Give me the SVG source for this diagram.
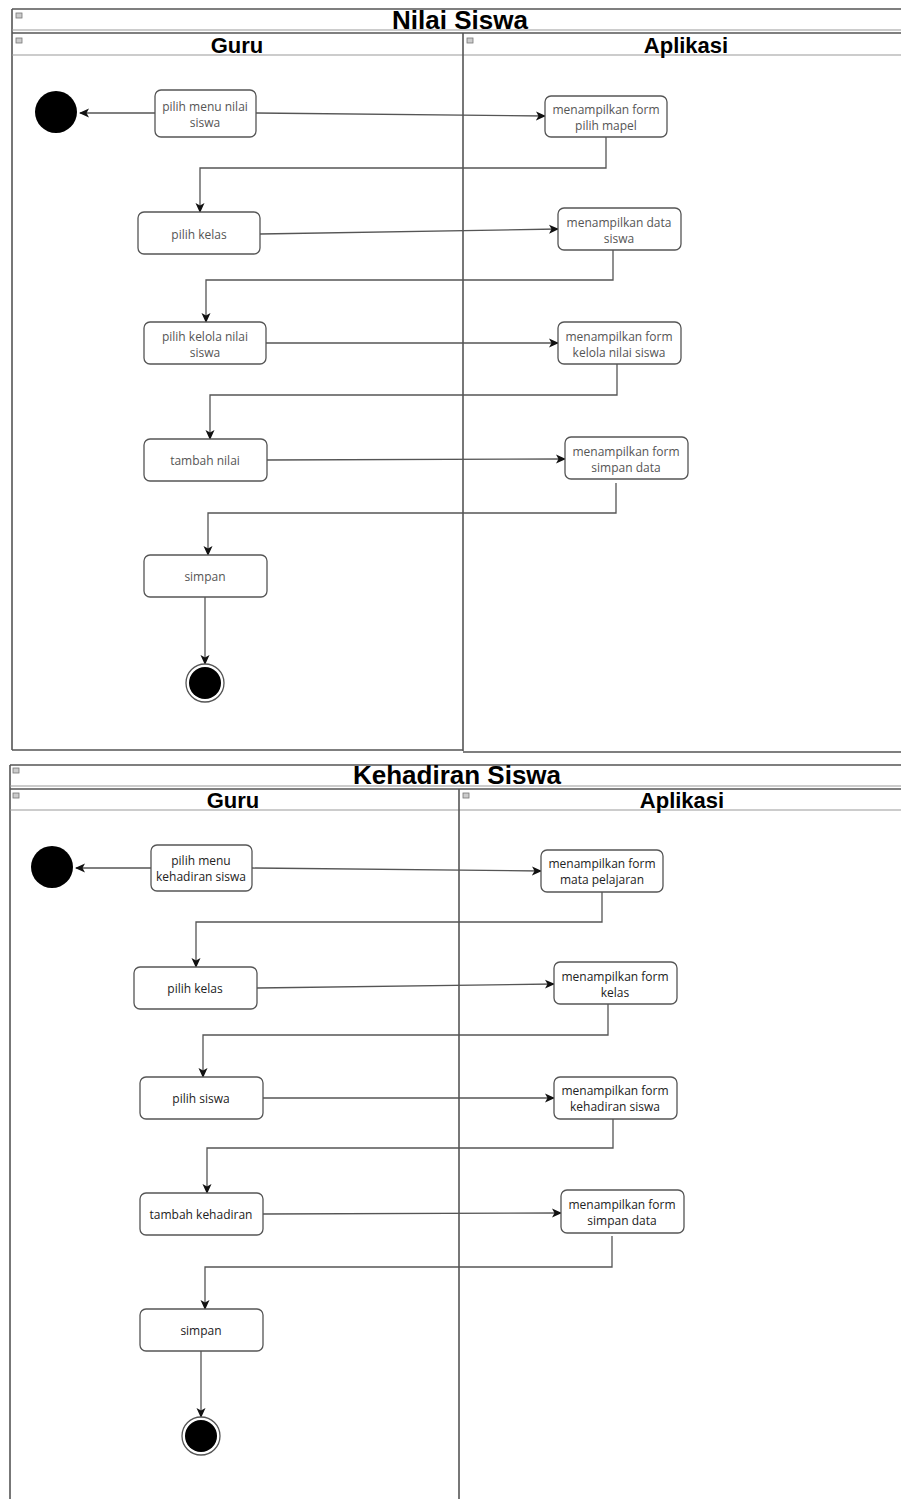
<svg xmlns="http://www.w3.org/2000/svg" width="901" height="1499" viewBox="0 0 901 1499">
<defs>
<marker id="arr" markerWidth="10" markerHeight="10" refX="9" refY="5" orient="auto" markerUnits="userSpaceOnUse">
<path d="M0,0.5 L10,5 L0,9.5 L2.5,5 Z" fill="#111"/>
</marker>
<style>
.frame{fill:none;stroke:#555;stroke-width:1.6}
.hdr{fill:none;stroke:#999;stroke-width:1.2}
.title{font-family:"Liberation Sans",Arial,sans-serif;font-weight:bold;font-size:26px;fill:#000;text-anchor:middle}
.lane{font-family:"Liberation Sans",Arial,sans-serif;font-weight:bold;font-size:22px;fill:#000;text-anchor:middle}
.box{fill:#fff;stroke:#555;stroke-width:1.3}
.t1{font-family:"Open Sans","Noto Sans",sans-serif;font-size:12px;fill:#555;text-anchor:middle;dominant-baseline:central}
.t2{font-family:"Open Sans","Noto Sans",sans-serif;font-size:12px;fill:#222;text-anchor:middle;dominant-baseline:central}
.conn{fill:none;stroke:#555;stroke-width:1.3}
.icon{fill:#ccc;stroke:#777;stroke-width:0.8}
</style>
</defs>
<rect width="901" height="1499" fill="#fff"/>

<!-- ===== Diagram 1: Nilai Siswa ===== -->
<g id="frame-nilai">
<line class="frame" x1="12" y1="9" x2="901" y2="9"/>
<line class="frame" x1="12" y1="9" x2="12" y2="750"/>
<line class="hdr" x1="12" y1="30" x2="901" y2="30"/>
<line class="frame" x1="12" y1="33" x2="901" y2="33"/>
<line class="hdr" x1="12" y1="55" x2="901" y2="55"/>
<line class="frame" x1="463" y1="33" x2="463" y2="751"/>
<line class="frame" x1="12" y1="750" x2="463" y2="750"/>
<line class="frame" x1="463" y1="752" x2="901" y2="752"/>
<rect class="icon" x="16" y="13" width="6" height="5"/>
<rect class="icon" x="16" y="38" width="6" height="5"/>
<rect class="icon" x="467" y="38" width="6" height="5"/>
<text class="title" x="460" y="29">Nilai Siswa</text>
<text class="lane" x="237" y="53">Guru</text>
<text class="lane" x="686" y="53">Aplikasi</text>
</g>

<g id="connectors-nilai">
<line class="conn" x1="155" y1="113" x2="80" y2="113" marker-end="url(#arr)"/>
<line class="conn" x1="256" y1="113" x2="545" y2="116" marker-end="url(#arr)"/>
<polyline class="conn" points="606,137 606,168 200,168 200,212" marker-end="url(#arr)"/>
<line class="conn" x1="260" y1="234" x2="558" y2="229" marker-end="url(#arr)"/>
<polyline class="conn" points="613,250 613,280 206,280 206,322" marker-end="url(#arr)"/>
<line class="conn" x1="266" y1="343" x2="558" y2="343" marker-end="url(#arr)"/>
<polyline class="conn" points="617,364 617,395 210,395 210,439" marker-end="url(#arr)"/>
<line class="conn" x1="267" y1="460" x2="565" y2="459" marker-end="url(#arr)"/>
<polyline class="conn" points="616,483 616,513 208,513 208,555" marker-end="url(#arr)"/>
<line class="conn" x1="205" y1="597" x2="205" y2="664" marker-end="url(#arr)"/>
</g>

<g id="n1-start"><circle cx="56" cy="112" r="21" fill="#000"/></g>
<g id="n1-menu"><rect class="box" x="155" y="90" width="101" height="47" rx="6"/><text class="t1" x="205" y="106">pilih menu nilai</text><text class="t1" x="205" y="122">siswa</text></g>
<g id="n1-formmapel"><rect class="box" x="545" y="96" width="122" height="41" rx="6"/><text class="t1" x="606" y="109">menampilkan form</text><text class="t1" x="606" y="125">pilih mapel</text></g>
<g id="n1-kelas"><rect class="box" x="138" y="212" width="122" height="42" rx="6"/><text class="t1" x="199" y="234">pilih kelas</text></g>
<g id="n1-datasiswa"><rect class="box" x="558" y="208" width="123" height="42" rx="6"/><text class="t1" x="619" y="222">menampilkan data</text><text class="t1" x="619" y="238">siswa</text></g>
<g id="n1-kelola"><rect class="box" x="144" y="322" width="122" height="42" rx="6"/><text class="t1" x="205" y="336">pilih kelola nilai</text><text class="t1" x="205" y="352">siswa</text></g>
<g id="n1-formkelola"><rect class="box" x="558" y="322" width="123" height="42" rx="6"/><text class="t1" x="619" y="336">menampilkan form</text><text class="t1" x="619" y="352">kelola nilai siswa</text></g>
<g id="n1-tambah"><rect class="box" x="144" y="439" width="123" height="42" rx="6"/><text class="t1" x="205" y="460">tambah nilai</text></g>
<g id="n1-formsimpan"><rect class="box" x="565" y="437" width="123" height="42" rx="6"/><text class="t1" x="626" y="451">menampilkan form</text><text class="t1" x="626" y="467">simpan data</text></g>
<g id="n1-simpan"><rect class="box" x="144" y="555" width="123" height="42" rx="6"/><text class="t1" x="205" y="576">simpan</text></g>
<g id="n1-end"><circle cx="205" cy="683" r="19" fill="#fff" stroke="#555" stroke-width="1.3"/><circle cx="205" cy="683" r="16" fill="#000"/></g>

<!-- ===== Diagram 2: Kehadiran Siswa ===== -->
<g id="frame-kehadiran">
<line class="frame" x1="10" y1="765" x2="901" y2="765"/>
<line class="frame" x1="10" y1="765" x2="10" y2="1499"/>
<line class="hdr" x1="10" y1="786" x2="901" y2="786"/>
<line class="frame" x1="10" y1="789" x2="901" y2="789"/>
<line class="hdr" x1="10" y1="810" x2="901" y2="810"/>
<line class="frame" x1="459" y1="789" x2="459" y2="1499"/>
<rect class="icon" x="13" y="768" width="6" height="5"/>
<rect class="icon" x="13" y="793" width="6" height="5"/>
<rect class="icon" x="463" y="793" width="6" height="5"/>
<text class="title" x="457" y="784">Kehadiran Siswa</text>
<text class="lane" x="233" y="808">Guru</text>
<text class="lane" x="682" y="808">Aplikasi</text>
</g>

<g id="connectors-kehadiran">
<line class="conn" x1="151" y1="868" x2="76" y2="868" marker-end="url(#arr)"/>
<line class="conn" x1="252" y1="868" x2="541" y2="871" marker-end="url(#arr)"/>
<polyline class="conn" points="602,892 602,922 196,922 196,967" marker-end="url(#arr)"/>
<line class="conn" x1="257" y1="988" x2="554" y2="984" marker-end="url(#arr)"/>
<polyline class="conn" points="608,1004 608,1035 203,1035 203,1077" marker-end="url(#arr)"/>
<line class="conn" x1="263" y1="1098" x2="554" y2="1098" marker-end="url(#arr)"/>
<polyline class="conn" points="613,1119 613,1148 207,1148 207,1193" marker-end="url(#arr)"/>
<line class="conn" x1="263" y1="1214" x2="561" y2="1213" marker-end="url(#arr)"/>
<polyline class="conn" points="612,1236 612,1267 205,1267 205,1309" marker-end="url(#arr)"/>
<line class="conn" x1="201" y1="1351" x2="201" y2="1417" marker-end="url(#arr)"/>
</g>

<g id="n2-start"><circle cx="52" cy="867" r="21" fill="#000"/></g>
<g id="n2-menu"><rect class="box" x="151" y="845" width="101" height="46" rx="6"/><text class="t2" x="201" y="860">pilih menu</text><text class="t2" x="201" y="876">kehadiran siswa</text></g>
<g id="n2-formmapel"><rect class="box" x="541" y="850" width="122" height="42" rx="6"/><text class="t2" x="602" y="863">menampilkan form</text><text class="t2" x="602" y="879">mata pelajaran</text></g>
<g id="n2-kelas"><rect class="box" x="134" y="967" width="123" height="42" rx="6"/><text class="t2" x="195" y="988">pilih kelas</text></g>
<g id="n2-formkelas"><rect class="box" x="554" y="962" width="123" height="42" rx="6"/><text class="t2" x="615" y="976">menampilkan form</text><text class="t2" x="615" y="992">kelas</text></g>
<g id="n2-siswa"><rect class="box" x="140" y="1077" width="123" height="42" rx="6"/><text class="t2" x="201" y="1098">pilih siswa</text></g>
<g id="n2-formkehadiran"><rect class="box" x="554" y="1077" width="123" height="42" rx="6"/><text class="t2" x="615" y="1090">menampilkan form</text><text class="t2" x="615" y="1106">kehadiran siswa</text></g>
<g id="n2-tambah"><rect class="box" x="140" y="1193" width="123" height="42" rx="6"/><text class="t2" x="201" y="1214">tambah kehadiran</text></g>
<g id="n2-formsimpan"><rect class="box" x="561" y="1190" width="123" height="43" rx="6"/><text class="t2" x="622" y="1204">menampilkan form</text><text class="t2" x="622" y="1220">simpan data</text></g>
<g id="n2-simpan"><rect class="box" x="140" y="1309" width="123" height="42" rx="6"/><text class="t2" x="201" y="1330">simpan</text></g>
<g id="n2-end"><circle cx="201" cy="1436" r="19" fill="#fff" stroke="#555" stroke-width="1.3"/><circle cx="201" cy="1436" r="16" fill="#000"/></g>
</svg>
